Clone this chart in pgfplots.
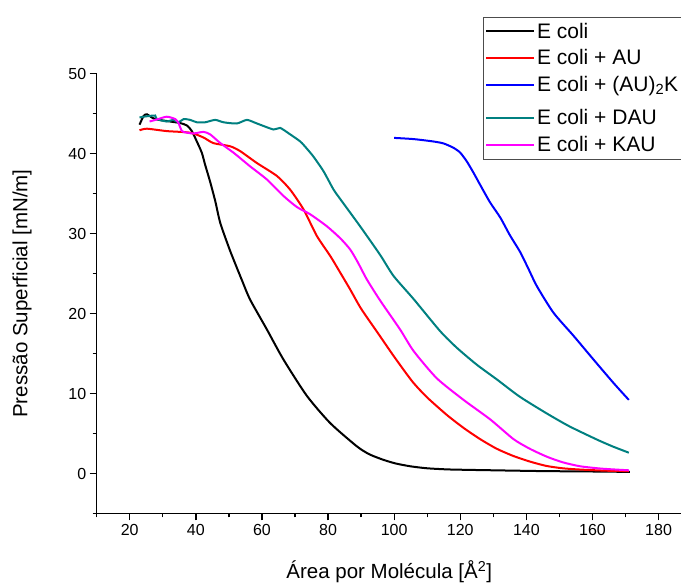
\documentclass[border=0pt]{standalone}
\usepackage{fontspec}
\setmainfont{Liberation Sans}
\usepackage{pgfplots}
\pgfplotsset{compat=1.18}
\definecolor{dau}{RGB}{0,128,128}
\definecolor{kau}{RGB}{255,0,255}
\definecolor{au}{RGB}{255,0,0}
\definecolor{auk}{RGB}{0,0,255}
\pgfplotsset{tallimg/.style={legend image code/.code={\draw[##1, line width=2pt] (0pt,0pt) -- (48pt,0pt); \path (0pt,-16pt);}}}
\begin{document}
\begin{tikzpicture}
\begin{axis}[
  at={(0,0)}, anchor=south west,
  scale only axis, width=585pt, height=440pt,
  xmin=10, xmax=187, ymin=-5, ymax=50,
  axis x line*=bottom, axis y line*=left,
  axis line style={line width=1.5pt},
  tick align=outside,
  major tick length=7pt, minor tick length=4pt,
  every tick/.style={black, line width=1.3pt},
  xtick={20,40,...,180}, ytick={0,10,...,50},
  minor xtick={10,30,...,190}, minor ytick={-5,5,...,45},
  tick label style={font=\fontsize{16}{19}\selectfont},
  /pgf/number format/assume math mode=true,
  xlabel={Área por Molécula [Å\textsuperscript{2}]},
  ylabel={Pressão Superficial [mN/m]},
  label style={font=\fontsize{20.5}{24}\selectfont},
  x label style={at={(axis description cs:0.5,-0.133)}, anchor=center},
  y label style={at={(axis description cs:-0.1277,0.5)}, anchor=center},
  legend style={at={(axis description cs:0.6598,1.1295)}, anchor=north west,
    draw=gray!60!black, line width=0.8pt, fill=white,
    font=\fontsize{21}{24}\selectfont, inner xsep=2pt, inner ysep=4pt,
    row sep=6pt},
  legend cell align=left,
  legend image code/.code={\draw[#1, line width=2pt] (0pt,0pt) -- (48pt,0pt);},
  every axis plot/.append style={line width=2pt, smooth, tension=0.4},
]
\addplot[black] coordinates {
(22.96,43.6) (24.2,44.7) (25.2,44.9) (26.7,44.5) (28.2,44.25) (32.2,44.0) (35.3,43.8)
(37.3,43.5) (38.8,42.8) (40.3,41.5) (41.8,40.1) (42.8,38.6) (44.3,36.5) (45.9,34.0)
(47.4,31.3) (50.4,27.8) (53.9,24.2) (56.4,21.75) (61.5,18.0) (66.5,14.25) (73.6,9.7)
(80.65,6.3) (88.7,3.4) (92.5,2.4) (96.8,1.7) (100.5,1.25) (104.9,0.9) (110,0.65)
(117,0.5) (130,0.4) (145,0.3) (160,0.25) (171.3,0.2)};
\addlegendentry{E coli}
\addplot[au] coordinates {
(22.96,42.9) (25.2,43.1) (31.2,42.8) (38.3,42.6) (42.3,42.0) (45.3,41.3) (50.4,40.9)
(53.4,40.3) (58.5,38.8) (64.5,37.2) (68.5,35.5) (72.6,33.0) (76.6,29.7) (80.65,27.2)
(83.7,25.1) (86.7,23.0) (90,20.6) (95,17.6) (100,14.6) (105.5,11.5) (110,9.5)
(116,7.3) (121,5.7) (126,4.3) (131,3.1) (136,2.2) (141,1.5) (146,0.95) (151,0.65)
(156,0.5) (164,0.35) (171,0.3)};
\addlegendentry{E coli + AU}
\addplot[auk, tallimg] coordinates {
(100,41.95) (105.9,41.8) (111.9,41.5) (115,41.25) (118,40.7) (120,40.1) (122,39.0)
(124,37.6) (126,36.1) (129,33.9) (132.1,32.0) (135,29.8) (138.1,27.7) (140.5,25.7)
(143.2,23.4) (148.2,20.1) (154.3,17.2) (160.3,14.25) (166.4,11.3) (171,9.2)};
\addlegendentry{E coli + (AU)\textsubscript{2}K}
\addplot[dau] coordinates {
(22.96,44.5) (24.2,44.6) (26.2,44.7) (27.7,44.75) (28.2,44.3) (31.2,44.0) (33.2,44.2)
(34.75,43.9) (36.3,44.3) (38.3,44.2) (40.3,43.9) (42.8,43.9) (45.85,44.2) (48.4,43.9)
(52.4,43.75) (55.45,44.2) (58.5,43.75) (63.5,43.0) (65.5,43.2) (68.5,42.4) (71.6,41.5)
(73.6,40.6) (75.6,39.6) (78.6,37.8) (81.65,35.5) (83.7,34.3) (89.7,30.9) (95.8,27.3)
(99.8,24.7) (105.9,21.8) (113.9,17.8) (119,15.7) (125,13.6) (131.1,11.75) (138,9.6)
(146.2,7.5) (153,5.9) (161.3,4.25) (166,3.4) (171,2.6)};
\addlegendentry{E coli + DAU}
\addplot[kau] coordinates {
(26.0,44.0) (28.2,44.25) (31.2,44.6) (33.75,44.3) (34.75,43.8) (35.8,42.8) (37.3,42.6)
(39.3,42.5) (42.3,42.7) (44.3,42.4) (47.4,41.3) (51.4,40.1) (56.4,38.4) (61.5,36.75)
(66.5,34.7) (70.6,33.3) (74.6,32.4) (79.65,30.9) (83.7,29.4) (86.7,28.0) (89,26.4)
(91.75,24.25) (95.8,21.6) (101.8,18.0) (105.9,15.3) (112.9,11.9) (121,9.2) (129.1,6.75)
(136.1,4.3) (141,3.1) (146.2,2.1) (151,1.4) (156.3,0.9) (163,0.6) (171,0.4)};
\addlegendentry{E coli + KAU}
\end{axis}
\pgfresetboundingbox
\path (-96.7pt,-72.5pt) rectangle (584.3pt,513.5pt);
\end{tikzpicture}
\end{document}
